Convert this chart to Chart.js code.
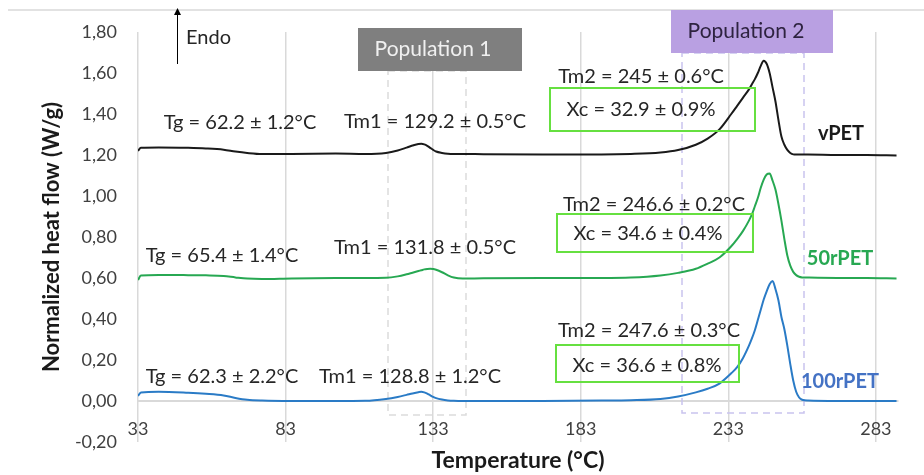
<!DOCTYPE html>
<html>
<head>
<meta charset="utf-8">
<script src="https://cdn.jsdelivr.net/npm/chart.js@4/dist/chart.umd.min.js"></script>
<style>
html,body{margin:0;padding:0;background:#fff;}
#wrap{width:924px;height:475px;}
</style>
</head>
<body>
<div id="wrap"><canvas id="c" width="924" height="475"></canvas></div>
<script>
// ---------- data ----------
const temps = [33, 34, 40, 50, 56, 62, 66, 70, 75, 85, 100, 110, 117, 121, 124, 126, 128, 129, 130, 131, 132, 133, 134, 136, 138, 140, 143, 150, 170, 190, 200, 210, 216, 222, 226, 230, 234, 236, 238, 240, 241, 242, 243, 244, 245, 246, 247, 248, 249, 250, 251, 252, 253, 254, 255, 256, 257, 258, 260, 270, 280, 290];

const vPET = [1.22, 1.235, 1.237, 1.235, 1.232, 1.226, 1.217, 1.21, 1.205, 1.205, 1.207, 1.205, 1.21, 1.222, 1.236, 1.246, 1.254, 1.255, 1.252, 1.245, 1.235, 1.225, 1.217, 1.21, 1.206, 1.205, 1.205, 1.204, 1.203, 1.203, 1.205, 1.212, 1.224, 1.25, 1.28, 1.325, 1.40, 1.44, 1.48, 1.52, 1.545, 1.57, 1.60, 1.635, 1.66, 1.645, 1.60, 1.53, 1.46, 1.37, 1.29, 1.25, 1.225, 1.21, 1.203, 1.202, 1.202, 1.202, 1.202, 1.2, 1.2, 1.198];

const r50PET = [0.59, 0.612, 0.615, 0.614, 0.613, 0.61, 0.603, 0.597, 0.595, 0.598, 0.6, 0.6, 0.601, 0.608, 0.618, 0.626, 0.634, 0.638, 0.642, 0.644, 0.645, 0.644, 0.64, 0.628, 0.613, 0.602, 0.597, 0.599, 0.6, 0.6, 0.602, 0.612, 0.625, 0.645, 0.67, 0.70, 0.755, 0.79, 0.83, 0.88, 0.91, 0.95, 0.99, 1.04, 1.08, 1.105, 1.11, 1.075, 1.03, 0.96, 0.88, 0.79, 0.71, 0.66, 0.63, 0.614, 0.606, 0.603, 0.602, 0.6, 0.6, 0.598];

const r100PET = [0.025, 0.042, 0.045, 0.04, 0.035, 0.027, 0.015, 0.006, 0.002, 0.0, 0.0, 0.001, 0.01, 0.02, 0.03, 0.037, 0.043, 0.045, 0.042, 0.036, 0.028, 0.02, 0.014, 0.007, 0.003, 0.001, 0.0, 0.0, 0.0, 0.002, 0.004, 0.01, 0.022, 0.042, 0.06, 0.085, 0.135, 0.165, 0.21, 0.27, 0.305, 0.345, 0.395, 0.445, 0.495, 0.535, 0.57, 0.585, 0.545, 0.49, 0.41, 0.35, 0.27, 0.18, 0.10, 0.045, 0.017, 0.006, 0.002, 0.0, 0.0, 0.0];

const seriesNames = ['vPET', '50rPET', '100rPET'];
const xTicks = [33, 83, 133, 183, 233, 283];
const yTicks = [-0.2, 0, 0.2, 0.4, 0.6, 0.8, 1.0, 1.2, 1.4, 1.6, 1.8];

// annotation texts
const tgLabels  = ['Tg = 62.2 ± 1.2°C', 'Tg = 65.4 ± 1.4°C', 'Tg = 62.3 ± 2.2°C'];
const tm1Labels = ['Tm1 = 129.2 ± 0.5°C', 'Tm1 = 131.8 ± 0.5°C', 'Tm1 = 128.8 ± 1.2°C'];
const tm2Labels = ['Tm2 = 245 ± 0.6°C', 'Tm2 = 246.6 ± 0.2°C', 'Tm2 = 247.6 ± 0.3°C'];
const xcLabels  = ['Xc = 32.9 ± 0.9%', 'Xc = 34.6 ± 0.4%', 'Xc = 36.6 ± 0.8%'];
const popLabels = ['Population 1', 'Population 2'];

// ---------- styles ----------
const FONT = 'Lato, "Open Sans", sans-serif';
const lineColors = ['#1a1a1a', '#27a852', '#2a7bc6'];
const nameColors = ['#1a1a1a', '#27a852', '#4472c4'];

const toPts = arr => arr.map((v, i) => ({x: temps[i], y: v}));

const annot = {
  id: 'annot',
  beforeDatasetsDraw(chart) {
    const ctx = chart.ctx;
    ctx.save();
    ctx.strokeStyle = '#d9d9d9';
    ctx.lineWidth = 1.5;
    ctx.beginPath(); ctx.moveTo(8, 10); ctx.lineTo(924, 10); ctx.stroke();
    ctx.setLineDash([7, 5]);
    ctx.lineWidth = 1.5;
    ctx.strokeStyle = '#dcdcdc';
    ctx.strokeRect(388, 71, 78, 344);
    ctx.strokeStyle = '#c9c3ee';
    ctx.strokeRect(682, 53, 122, 360);
    ctx.setLineDash([]);
    ctx.restore();
  },
  afterDatasetsDraw(chart) {
    const ctx = chart.ctx;
    ctx.save();
    ctx.textBaseline = 'middle';
    ctx.textAlign = 'center';
    // population boxes
    ctx.fillStyle = '#7f7f7f';
    ctx.fillRect(358, 28, 164, 43);
    ctx.fillStyle = '#f0f0f0';
    ctx.font = '21px ' + FONT;
    ctx.fillText(popLabels[0], 433, 49);
    ctx.fillStyle = '#b9a0e2';
    ctx.fillRect(671, 10, 162, 43);
    ctx.fillStyle = '#2e2340';
    ctx.fillText(popLabels[1], 746, 31);

    // Endo arrow
    ctx.strokeStyle = '#000';
    ctx.fillStyle = '#000';
    ctx.lineWidth = 1;
    ctx.beginPath(); ctx.moveTo(177.5, 64); ctx.lineTo(177.5, 13); ctx.stroke();
    ctx.beginPath(); ctx.moveTo(177.5, 8); ctx.lineTo(174, 15); ctx.lineTo(181, 15); ctx.closePath(); ctx.fill();
    ctx.fillStyle = '#262626';
    ctx.textAlign = 'left';
    ctx.font = '20px ' + FONT;
    ctx.fillText('Endo', 186, 38);

    // green Xc boxes
    ctx.strokeStyle = '#66e040';
    ctx.lineWidth = 2;
    ctx.strokeRect(550, 88, 205, 43);
    ctx.strokeRect(557, 214, 196, 38);
    ctx.strokeRect(556, 345, 183, 37);

    // labels
    ctx.textAlign = 'center';
    ctx.fillStyle = '#262626';
    ctx.font = '20px ' + FONT;
    const tgPos = [[240, 123], [222, 256], [222, 377]];
    const tm1Pos = [[435, 122], [425, 248], [410, 377]];
    const tm2Pos = [[641, 77], [654, 205], [649, 331]];
    const xcPos = [[641, 110], [648, 234], [647, 366]];
    for (let i = 0; i < 3; i++) {
      ctx.fillText(tgLabels[i], tgPos[i][0], tgPos[i][1]);
      ctx.fillText(tm1Labels[i], tm1Pos[i][0], tm1Pos[i][1]);
      ctx.fillText(tm2Labels[i], tm2Pos[i][0], tm2Pos[i][1]);
      ctx.fillText(xcLabels[i], xcPos[i][0], xcPos[i][1]);
    }
    // series names
    ctx.font = 'bold 20px ' + FONT;
    const namePos = [[841, 134], [840, 259], [840, 382]];
    for (let i = 0; i < 3; i++) {
      ctx.fillStyle = nameColors[i];
      ctx.fillText(seriesNames[i], namePos[i][0], namePos[i][1]);
    }
    // axis titles
    ctx.fillStyle = '#1a1a1a';
    ctx.font = 'bold 23px ' + FONT;
    ctx.fillText('Temperature (°C)', 518, 461);
    ctx.font = 'bold 22px ' + FONT;
    ctx.translate(52, 237);
    ctx.rotate(-Math.PI / 2);
    ctx.fillText('Normalized heat flow (W/g)', 0, 0);
    ctx.restore();
  }
};

new Chart(document.getElementById('c'), {
  type: 'line',
  data: {
    datasets: [
      {label: seriesNames[0], data: toPts(vPET), borderColor: lineColors[0]},
      {label: seriesNames[1], data: toPts(r50PET), borderColor: lineColors[1]},
      {label: seriesNames[2], data: toPts(r100PET), borderColor: lineColors[2]}
    ].map(d => Object.assign(d, {borderWidth: 2, pointRadius: 0, fill: false, cubicInterpolationMode: 'monotone'}))
  },
  options: {
    responsive: false,
    animation: false,
    layout: {padding: {left: 0, right: 26, top: 32, bottom: 33}},
    plugins: {legend: {display: false}, tooltip: {enabled: false}},
    scales: {
      x: {
        type: 'linear',
        position: {y: 0},
        min: 33, max: 290.5,
        afterBuildTicks: s => { s.ticks = xTicks.map(v => ({value: v})); },
        grid: {color: '#d9d9d9', lineWidth: 1.5, drawTicks: false},
        border: {color: '#d9d9d9', width: 2},
        ticks: {font: {family: FONT, size: 18}, color: '#404040', padding: 17, maxRotation: 0, autoSkip: false}
      },
      y: {
        min: -0.2, max: 1.8,
        position: 'left',
        afterFit: s => { s.width = 138; },
        afterBuildTicks: s => { s.ticks = yTicks.map(v => ({value: v})); },
        grid: {display: false, drawTicks: false},
        border: {display: false},
        ticks: {font: {family: FONT, size: 18}, color: '#404040', padding: 21, autoSkip: false,
                callback: v => v.toFixed(2).replace('.', ',')}
      }
    }
  },
  plugins: [annot]
});
</script>
</body>
</html>
